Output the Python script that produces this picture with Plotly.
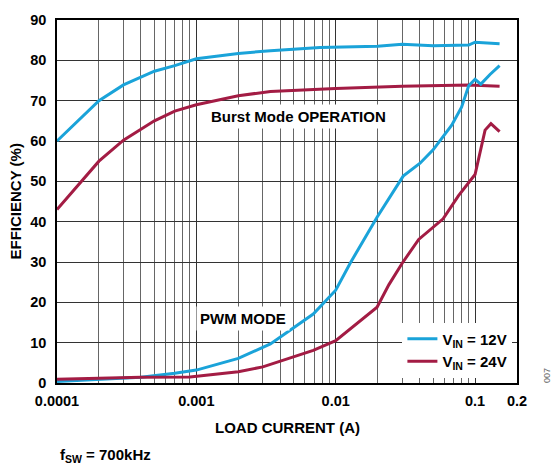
import plotly.graph_objects as go

# ---- data ----
x_12_burst = [0.0001, 0.0002, 0.0003, 0.0005, 0.0007, 0.001, 0.002, 0.0034, 0.0077, 0.02, 0.03, 0.05, 0.09, 0.1, 0.15]
y_12_burst = [60, 70, 73.9, 77.3, 78.7, 80.4, 81.7, 82.4, 83.2, 83.5, 84.0, 83.6, 83.8, 84.5, 84.1]

x_24_burst = [0.0001, 0.0002, 0.0003, 0.0004, 0.0005, 0.0007, 0.001, 0.002, 0.0034, 0.01, 0.03, 0.09, 0.15]
y_24_burst = [43, 55, 60.2, 62.9, 65, 67.4, 69, 71.2, 72.3, 73.0, 73.6, 73.9, 73.6]

x_12_pwm = [0.0001, 0.0004, 0.0007, 0.001, 0.002, 0.0034, 0.0069, 0.0081, 0.01, 0.0127, 0.0198,
            0.0305, 0.0403, 0.05, 0.068, 0.08, 0.09, 0.1, 0.11, 0.128, 0.15]
y_12_pwm = [0.4, 1.4, 2.4, 3.2, 6.1, 9.7, 17.1, 19.6, 23.0, 29.7, 41.1,
            51.3, 54.5, 57.8, 63.9, 68.4, 73.7, 75.3, 74.1, 76.5, 78.7]

x_24_pwm = [0.0001, 0.0004, 0.0009, 0.002, 0.003, 0.0049, 0.0069, 0.01, 0.0127, 0.0198, 0.0241,
            0.03, 0.0394, 0.059, 0.0759, 0.1, 0.118, 0.13, 0.15]
y_24_pwm = [0.9, 1.4, 1.5, 2.8, 4.0, 6.4, 8.1, 10.5, 13.4, 18.8, 24.4,
            29.7, 35.6, 40.7, 46.4, 51.7, 62.7, 64.3, 62.3]

x_tick_vals = [0.0001, 0.001, 0.01, 0.1, 0.2]
x_tick_text = ["0.0001", "0.001", "0.01", "0.1", "0.2"]
y_ticks = [0, 10, 20, 30, 40, 50, 60, 70, 80, 90]

BLUE = "#1aa3d9"
RED = "#a31c44"
FONT = "Liberation Sans"

# minor grid positions: 2..9 per decade
minor_x = []
for dec in [1e-4, 1e-3, 1e-2]:
    for m in range(2, 10):
        minor_x.append(round(m * dec, 8))

fig = go.Figure()
fig.add_trace(go.Scatter(x=x_12_burst, y=y_12_burst, mode="lines", line=dict(color=BLUE, width=3),
                         name="V<sub>IN</sub> = 12V", legendgroup="12"))
fig.add_trace(go.Scatter(x=x_24_burst, y=y_24_burst, mode="lines", line=dict(color=RED, width=3),
                         name="V<sub>IN</sub> = 24V", legendgroup="24"))
fig.add_trace(go.Scatter(x=x_12_pwm, y=y_12_pwm, mode="lines", line=dict(color=BLUE, width=3),
                         name="12V PWM", legendgroup="12", showlegend=False))
fig.add_trace(go.Scatter(x=x_24_pwm, y=y_24_pwm, mode="lines", line=dict(color=RED, width=3),
                         name="24V PWM", legendgroup="24", showlegend=False))

tick_font = dict(family=FONT, size=14.5, color="black", weight="bold")
lab_font = dict(family=FONT, size=15, color="black", weight="bold")

fig.update_xaxes(type="log", range=[-4, -0.69897], tickvals=x_tick_vals, ticktext=x_tick_text,
                 showgrid=True, gridcolor="#333", gridwidth=1,
                 minor=dict(tickvals=minor_x, showgrid=True, gridcolor="#666", gridwidth=1, ticks=""),
                 showline=True, linecolor="black", linewidth=1.5, mirror=True,
                 ticks="", tickfont=tick_font, ticklabelstandoff=4, zeroline=False)
fig.update_yaxes(range=[0, 90], tickvals=y_ticks, showgrid=True, gridcolor="#333", gridwidth=1,
                 showline=True, linecolor="black", linewidth=1.5, mirror=True,
                 ticks="", tickfont=tick_font, ticklabelstandoff=6, zeroline=False)

fig.update_layout(
    width=551, height=464,
    margin=dict(l=57, r=34, t=15, b=81),
    paper_bgcolor="white", plot_bgcolor="white",
    showlegend=True,
    legend=dict(x=0.99, y=0.015, xanchor="right", yanchor="bottom", bgcolor="white",
                font=dict(family=FONT, size=15, color="black", weight="bold"),
                tracegroupgap=0, itemwidth=30),
    annotations=[
        dict(text="Burst Mode OPERATION", x=0.524, y=0.734, xref="paper", yref="paper",
             xanchor="center", yanchor="middle", showarrow=False, font=lab_font,
             bgcolor="white", borderpad=3),
        dict(text="PWM MODE", x=0.404, y=0.178, xref="paper", yref="paper",
             xanchor="center", yanchor="middle", showarrow=False, font=lab_font,
             bgcolor="white", borderpad=3),
        dict(text="LOAD CURRENT (A)", x=0.5, y=0, xref="paper", yref="paper",
             xanchor="center", yanchor="middle", yshift=-44, showarrow=False, font=lab_font),
        dict(text="EFFICIENCY (%)", x=-0.0913, y=0.5, xref="paper", yref="paper",
             xanchor="center", yanchor="middle", textangle=-90, showarrow=False, font=lab_font),
        dict(text="f<sub>SW</sub> = 700kHz", x=0.002, y=0, xref="paper", yref="paper",
             xanchor="left", yanchor="middle", yshift=-72, showarrow=False, font=lab_font),
        dict(text="007", x=1.065, y=0.022, xref="paper", yref="paper",
             xanchor="center", yanchor="middle", textangle=-90, showarrow=False,
             font=dict(family=FONT, size=9, color="#666")),
    ],
)

fig.write_html("out.html")
